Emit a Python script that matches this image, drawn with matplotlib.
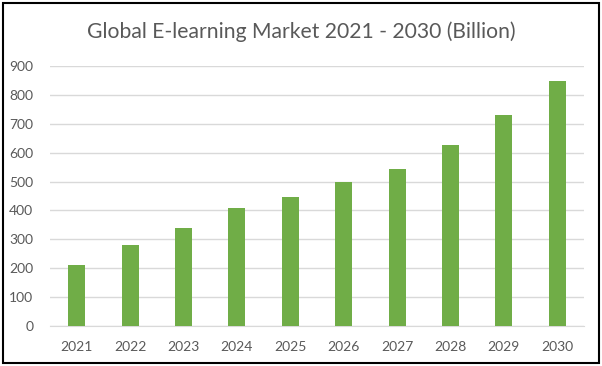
import numpy as np
import matplotlib.pyplot as plt
from matplotlib.patches import Rectangle

# data
years = ["2021", "2022", "2023", "2024", "2025", "2026", "2027", "2028", "2029", "2030"]
market = [210, 280, 338, 407, 448, 497, 542, 625, 730, 848]

plt.rcParams['font.family'] = ['Lato', 'DejaVu Sans']

fig = plt.figure(figsize=(6.02, 3.66), dpi=100)
ax = fig.add_axes([50/602, 1 - 326/366, 534/602, 260/366])

x = np.arange(len(years))
ax.bar(x, market, width=0.32, color='#70AD47', zorder=3)

ax.set_xlim(-0.5, len(years) - 0.5)
ax.set_ylim(0, 900)
ax.set_yticks(np.arange(0, 901, 100))
ax.set_xticks(x)
ax.set_xticklabels(years)
ax.grid(axis='y', color='#d9d9d9', linewidth=1, zorder=0)
for side in ['top', 'right', 'left']:
    ax.spines[side].set_visible(False)
ax.spines['bottom'].set_color('#d9d9d9')
ax.tick_params(length=0, colors='#595959', labelsize=10)
ax.tick_params(axis='x', pad=11)
ax.tick_params(axis='y', pad=12)

fig.text(0.5, 1 - 32/366, "Global E-learning Market 2021 - 2030 (Billion)",
         ha='center', va='center', fontsize=15.2, color='#595959')

# black frame round the whole chart
fig.patches.append(Rectangle((3/602, 3/366), 596/602, 360/366, transform=fig.transFigure,
                             fill=False, edgecolor='black', linewidth=1.5))

fig.savefig("out.png", dpi=100)
